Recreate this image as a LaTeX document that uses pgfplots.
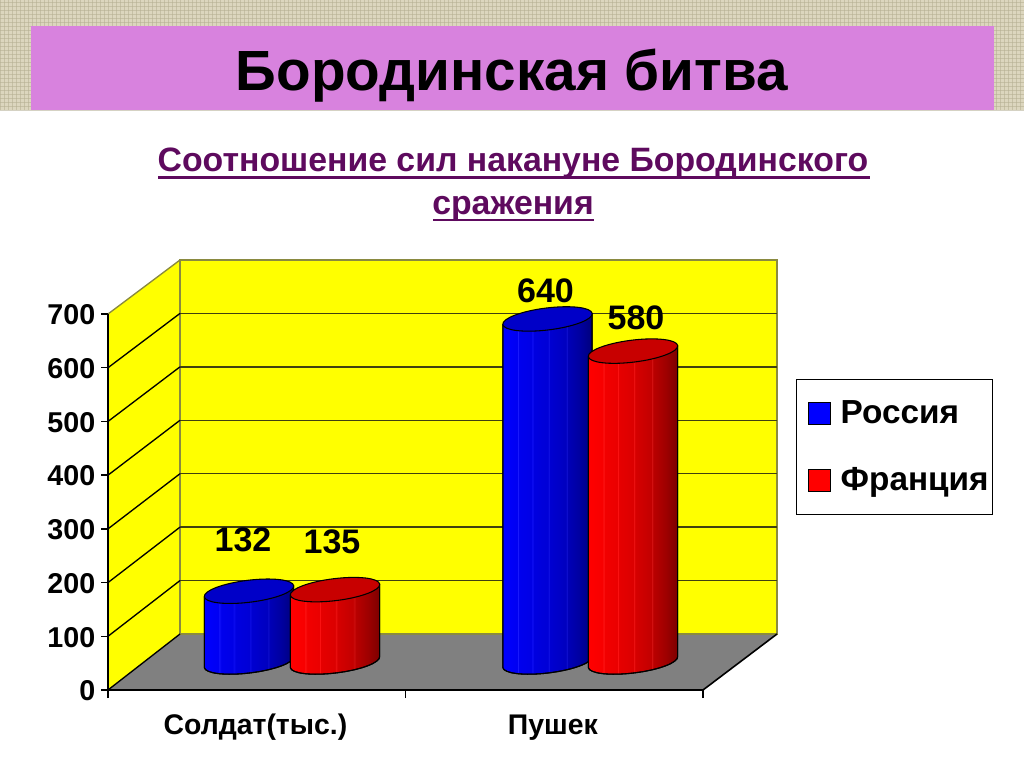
\documentclass[border=0pt]{standalone}
\usepackage{pgfplots}
\pgfplotsset{compat=1.18}
\usepackage{pgfplotstable}
\usepackage{fontspec}
\setmainfont{Liberation Sans}
\definecolor{burlap}{HTML}{DCD6BE}
\definecolor{burlapd}{HTML}{B4AE92}
\definecolor{orchidband}{HTML}{D882DE}
\definecolor{subt}{HTML}{5E0A5E}
\definecolor{wallyellow}{HTML}{FFFF00}
\definecolor{floorgray}{HTML}{808080}
\definecolor{wallline}{HTML}{8A8A40}
\definecolor{gridl}{HTML}{404010}
\definecolor{capblue}{HTML}{0000C8}
\definecolor{capred}{HTML}{C80000}
\pgfdeclarehorizontalshading{bluecyl}{100bp}{rgb(0bp)=(0,0,1);rgb(25bp)=(0,0,1);rgb(33bp)=(0,0,.95);rgb(33.4bp)=(.1,.1,1);rgb(34bp)=(0,0,.93);rgb(41bp)=(0,0,.9);rgb(41.4bp)=(.08,.08,.98);rgb(42bp)=(0,0,.88);rgb(50bp)=(0,0,.84);rgb(50.4bp)=(.08,.08,.92);rgb(51bp)=(0,0,.82);rgb(60bp)=(0,0,.75);rgb(60.4bp)=(.08,.08,.84);rgb(61bp)=(0,0,.72);rgb(68bp)=(0,0,.62);rgb(75bp)=(0,0,.48);rgb(100bp)=(0,0,.48)}
\pgfdeclarehorizontalshading{redcyl}{100bp}{rgb(0bp)=(1,0,0);rgb(25bp)=(1,0,0);rgb(33bp)=(.97,0,0);rgb(33.4bp)=(1,.1,.1);rgb(34bp)=(.95,0,0);rgb(41bp)=(.92,0,0);rgb(41.4bp)=(1,.08,.08);rgb(42bp)=(.9,0,0);rgb(50bp)=(.86,0,0);rgb(50.4bp)=(.94,.08,.08);rgb(51bp)=(.84,0,0);rgb(60bp)=(.76,0,0);rgb(60.4bp)=(.84,.08,.08);rgb(61bp)=(.73,0,0);rgb(68bp)=(.62,0,0);rgb(75bp)=(.48,0,0);rgb(100bp)=(.48,0,0)}
\newcommand{\cylmark}[2]{%
  \begin{scope}[x=0.75pt,y=0.75pt,line width=0.8pt,line join=round]
    \shade[shading=#1] (-44.7,-5.5) -- (-44.7,{-5.5-\hpx})
      .. controls (-43.96,{-11.53-\hpx}) and (-23.36,{-13.96-\hpx}) .. (1.34,{-10.92-\hpx})
      .. controls (26.04,{-7.88-\hpx}) and (45.44,{-0.53-\hpx}) .. (44.7,{5.5-\hpx})
      -- (44.7,5.5) -- cycle;
    \draw[black] (-44.7,-5.5) -- (-44.7,{-5.5-\hpx})
      .. controls (-43.96,{-11.53-\hpx}) and (-23.36,{-13.96-\hpx}) .. (1.34,{-10.92-\hpx})
      .. controls (26.04,{-7.88-\hpx}) and (45.44,{-0.53-\hpx}) .. (44.7,{5.5-\hpx})
      -- (44.7,5.5);
    \draw[black,fill=#2] (-44.7,-5.5)
      .. controls (-43.96,-11.53) and (-23.36,-13.96) .. (1.34,-10.92)
      .. controls (26.04,-7.88) and (45.44,-0.53) .. (44.7,5.5)
      .. controls (43.96,11.53) and (23.36,13.96) .. (-1.34,10.92)
      .. controls (-26.04,7.88) and (-45.44,0.53) .. (-44.7,-5.5) -- cycle;
  \end{scope}}
\pgfdeclareplotmark{cylblue}{\cylmark{bluecyl}{capblue}}
\pgfdeclareplotmark{cylred}{\cylmark{redcyl}{capred}}
% x = pixel position of the cylinder's axis, value = the chart's value, dx/dy = label offset
\pgfplotstableread{
x     value dx  dy
249   132   -6  51
547.5 640   -2  28
}\russia
\pgfplotstableread{
x     value dx  dy
335   135   -3  48
633   580   3   33
}\france
\begin{document}
\begin{tikzpicture}
\path[use as bounding box] (0,0) rectangle (768pt,575.25pt);
\begin{scope}[x=0.75pt,y=-0.75pt,yshift=575.25pt]
  % slide background
  \fill[white] (0,0) rectangle (1024,767);
  \fill[burlap] (0,0) rectangle (1024,110);
  \foreach \i in {0,4,...,1024} \draw[burlapd,opacity=.55,line width=.6pt] (\i,0) -- (\i,110);
  \foreach \j in {2,6,...,110} \draw[burlapd,opacity=.55,line width=.6pt] (0,\j) -- (1024,\j);
  \fill[orchidband] (31,26) rectangle (994,110);
  \node[font=\bfseries\fontsize{42.5}{42.5}\selectfont,black] at (512,76) {Бородинская битва};
  \node[font=\bfseries\fontsize{25.35}{25.35}\selectfont,subt] at (513,163) {Соотношение сил накануне Бородинского};
  \draw[subt,line width=2pt] (158,177.5) -- (870,177.5);
  \node[font=\bfseries\fontsize{25.35}{25.35}\selectfont,subt] at (513,209) {сражения};
  \draw[subt,line width=2pt] (433,220) -- (594,220);
  % 3-D box of the chart
  \fill[wallyellow] (180,260) rectangle (777,634);
  \fill[wallyellow] (108,314) -- (180,260) -- (180,634) -- (108,690) -- cycle;
  \fill[floorgray] (108,690) -- (180,634) -- (777,634) -- (703,690) -- cycle;
  \draw[wallline,line width=1pt] (180,260) -- (777,260) -- (777,634) -- (180,634) -- cycle;
  \draw[wallline,line width=1pt] (108,314) -- (180,260);
  \foreach \k in {1,...,6} {
    \pgfmathsetmacro{\by}{634-53.43*\k}
    \pgfmathsetmacro{\fy}{690-53.71*\k}
    \draw[gridl,line width=1pt] (180,\by) -- (777,\by);
    \draw[black,line width=1pt] (108,\fy) -- (180,\by);
  }
  \draw[black,line width=1pt] (108,690) -- (180,634);
  \draw[black,line width=1.2pt] (703,690) -- (777,634);
\end{scope}
% value axis and category axis on the front edge
\begin{axis}[
  at={(81pt,57.75pt)}, anchor=south west,
  scale only axis, width=446.25pt, height=282pt,
  xmin=0, xmax=2, ymin=0, ymax=700,
  axis x line=bottom, axis y line=left,
  axis line style={-,black,line width=1pt},
  xtick={0.5,1.5}, xticklabels={Солдат(тыс.),Пушек},
  minor xtick={0,1,2},
  ytick={0,100,...,700},
  major x tick style={draw=none},
  minor x tick style={black,line width=1pt},
  minor tick length=6pt,
  major tick length=5pt,
  tick align=outside,
  tick style={black,line width=1pt},
  /pgf/number format/assume math mode=true,
  tick label style={font=\bfseries\fontsize{21.5}{21.5}\selectfont,black},
  xticklabel style={font=\bfseries\fontsize{21.3}{21.3}\selectfont,anchor=base,yshift=-28pt,xshift=-1pt},
  yticklabel style={xshift=-1pt,yshift=-.7pt},
]
\end{axis}
% the cylinders: y = value, 0.536 px per unit, 0 at pixel row 662
\begin{axis}[
  at={(0,0)}, anchor=south west,
  scale only axis, width=768pt, height=575.25pt,
  xmin=0, xmax=1024, ymin=-195.9, ymax=1235.07,
  hide axis, clip=false,
  legend style={at={(597pt,291pt)},anchor=north west,draw=black,line width=.7pt,fill=white,
    font=\bfseries\fontsize{25}{25}\selectfont,
    inner xsep=1pt,inner ysep=14pt,row sep=27.5pt},
  legend cell align=left,
  nodes near coords,
  point meta=y,
  /pgf/number format/assume math mode=true,
  every node near coord/.append style={
    font=\bfseries\fontsize{25.5}{25.5}\selectfont,black,anchor=center,
    xshift=\dx*0.75pt+0pt,yshift=\dy*0.75pt+0pt},
  visualization depends on={0.536*\thisrow{value} \as \hpx},
  visualization depends on={\thisrow{dx} \as \dx},
  visualization depends on={\thisrow{dy} \as \dy},
]
\addlegendimage{legend image code/.code={\path (0pt,0pt) (29.5pt,0pt); \draw[black,line width=.5pt,fill=blue] (7.5pt,-8pt) rectangle (24pt,8.5pt);}}
\addlegendentry{Россия}
\addlegendimage{legend image code/.code={\path (0pt,0pt) (29.5pt,0pt); \draw[black,line width=.5pt,fill=red] (7.5pt,-8pt) rectangle (24pt,8.5pt);}}
\addlegendentry{Франция}
\addplot[scatter,only marks,mark=cylblue,forget plot] table[x=x,y=value] {\russia};
\addplot[scatter,only marks,mark=cylred,forget plot] table[x=x,y=value] {\france};
\end{axis}
\end{tikzpicture}
\end{document}
